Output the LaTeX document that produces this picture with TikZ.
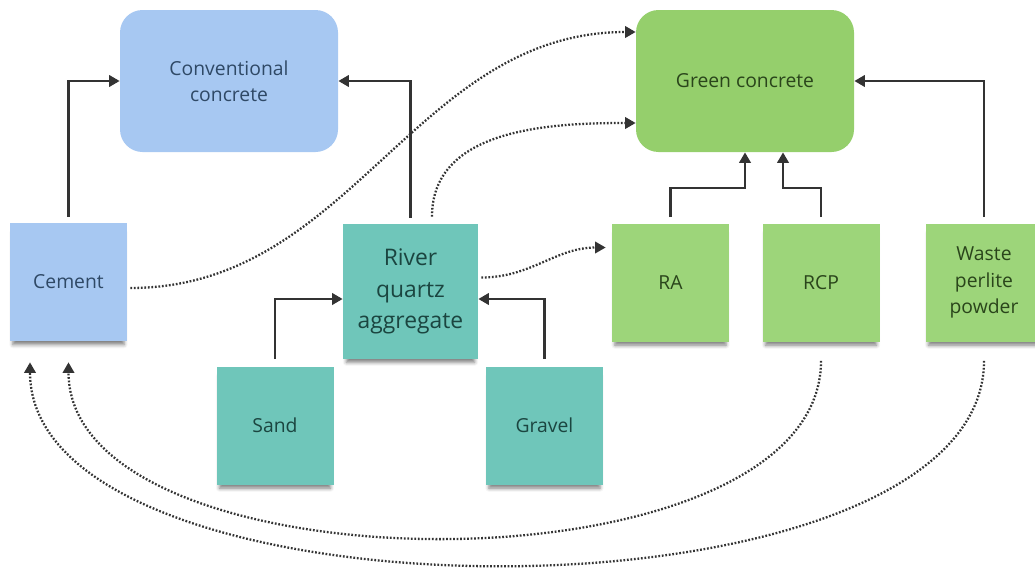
\documentclass[tikz,border=0pt]{standalone}
\usepackage{fontspec}
\setmainfont{Open Sans}
\usetikzlibrary{shapes,arrows.meta,positioning,calc,shadows.blur}
\definecolor{convblue}{HTML}{A7C8F2}
\definecolor{boxgreen}{HTML}{95CF6C}
\definecolor{notegreen}{HTML}{9DD57A}
\definecolor{noteteal}{HTML}{6FC6BA}
\definecolor{linegray}{HTML}{333333}
\definecolor{textblue}{HTML}{2F4966}
\definecolor{textgreen}{HTML}{2A451B}
\definecolor{textteal}{HTML}{1B4540}

\begin{document}
\begin{tikzpicture}[
  target/.style={rectangle, rounded corners=0.45cm, minimum width=4.36cm, minimum height=2.84cm, align=center, font=\fontsize{11}{15}\selectfont},
  note/.style={rectangle, minimum width=2.34cm, minimum height=2.36cm, align=center, font=\fontsize{11}{15}\selectfont, blur shadow={shadow xshift=0pt, shadow yshift=-4pt, shadow opacity=50, shadow scale=0.95}},
  arr/.style={-{Triangle[length=6pt,width=6.5pt]}, line width=1.4pt, linegray},
  dotarr/.style={-{Triangle[length=6pt,width=6.5pt]}, line width=1.3pt, dash pattern=on 1pt off 1pt, linegray}
]
  \useasboundingbox (0,0) rectangle (20.7,11.36);
  % targets
  \node[target, fill=convblue, text=textblue] (conv) at (4.58, 9.74) {Conventional\\concrete};
  \node[target, fill=boxgreen, text=textgreen] (green) at (14.90, 9.74) {Green concrete};
  % sticky notes
  \node[note, fill=convblue, text=textblue] (cement) at (1.37, 5.72) {Cement};
  \node[note, fill=noteteal, text=textteal, minimum width=2.7cm, minimum height=2.7cm, font=\fontsize{13}{18}\selectfont] (river) at (8.21, 5.53) {River\\quartz\\aggregate};
  \node[note, fill=noteteal, text=textteal] (sand) at (5.50, 2.85) {Sand};
  \node[note, fill=noteteal, text=textteal] (gravel) at (10.89, 2.85) {Gravel};
  \node[note, fill=notegreen, text=textgreen] (ra) at (13.41, 5.71) {RA};
  \node[note, fill=notegreen, text=textgreen] (rcp) at (16.42, 5.71) {RCP};
  \node[note, fill=notegreen, text=textgreen] (waste) at (19.68, 5.71) {Waste\\perlite\\powder};
  % solid links
  \draw[arr] ([yshift=0.12cm]cement.north) |- (conv.west);
  \draw[arr] ([yshift=0.12cm]river.north) |- (conv.east);
  \draw[arr] ([yshift=0.14cm]sand.north) |- ([yshift=-0.15cm]river.west);
  \draw[arr] ([yshift=0.14cm]gravel.north) |- ([yshift=-0.15cm]river.east);
  \draw[arr] ([yshift=0.12cm]ra.north) -- ++(0,0.58) -| (green.south);
  \draw[arr] ([yshift=0.12cm]rcp.north) -- ++(0,0.58) -| ([xshift=0.76cm]green.south);
  \draw[arr] ([yshift=0.12cm]waste.north) |- (green.east);
  % dotted links
  \draw[dotarr] ([xshift=0.06cm,yshift=-0.12cm]cement.east) to[out=0,in=180] ([yshift=0.98cm]green.west);
  \draw[dotarr] ([xshift=0.43cm,yshift=0.14cm]river.north) to[out=90,in=180] ([yshift=-0.84cm]green.west);
  \draw[dotarr] ([xshift=0.06cm,yshift=0.28cm]river.east) to[out=0,in=180] ([xshift=-0.12cm,yshift=0.7cm]ra.west);
  \draw[dotarr] ([yshift=-0.38cm]rcp.south) .. controls +(0,-4.75) and +(0,-4.65) .. ([yshift=-0.42cm]cement.south);
  \draw[dotarr] ([yshift=-0.38cm]waste.south) .. controls +(0,-5.45) and +(0,-5.4) .. ([xshift=-0.77cm,yshift=-0.42cm]cement.south);
\end{tikzpicture}
\end{document}
